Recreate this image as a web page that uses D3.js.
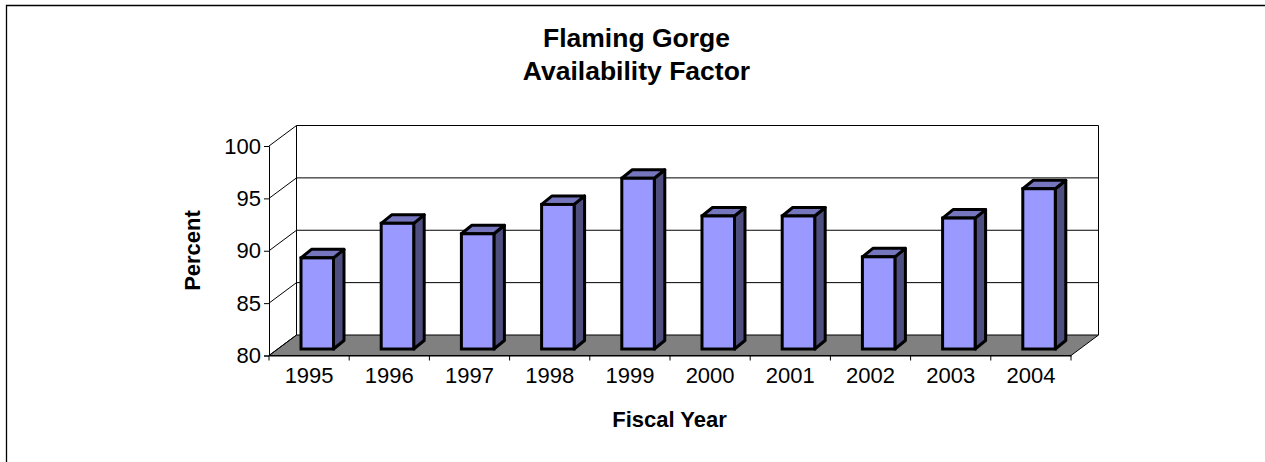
<!DOCTYPE html>
<html>
<head>
<meta charset="utf-8">
<script src="https://cdnjs.cloudflare.com/ajax/libs/d3/7.8.5/d3.min.js"></script>
<style>
  html, body { margin: 0; padding: 0; background: #fff; overflow: hidden; }
  text { font-family: "Liberation Sans", Arial, sans-serif; fill: #000; }
</style>
</head>
<body>
<svg id="chart" width="1265" height="462"></svg>
<script>
let years = ["1995", "1996", "1997", "1998", "1999", "2000", "2001", "2002", "2003", "2004"];
let percent = [88.7, 92.0, 91.0, 93.8, 96.3, 92.7, 92.7, 88.8, 92.5, 95.3];
let yTicks = [80, 85, 90, 95, 100];

let svg = d3.select("#chart");

// outer frame, only left and top are in the picture
svg.append("path")
    .attr("d", "M6.5,462V5.5H1265")
    .attr("fill", "none")
    .attr("stroke", "#000")
    .attr("stroke-width", 1.3);

// front plane of the 3d box, back plane is shifted by depth
let x = d3.scaleBand().domain(years).range([269, 1071]);
let y = d3.scaleLinear().domain([80, 100]).range([355.5, 146]);
let depth = {x: 27.5, y: -20.5};
let barDepth = {x: 10.5, y: -8.5};
let barLift = -6.5;
let barWidth = 32.5;

let backX0 = x.range()[0] + depth.x;
let backX1 = x.range()[1] + depth.x;

// floor
let floor = [
    [x.range()[0], y(80)],
    [x.range()[1], y(80)],
    [backX1, y(80) + depth.y],
    [backX0, y(80) + depth.y]
];
svg.append("polygon")
    .attr("points", floor.join(" "))
    .attr("fill", "#808080")
    .attr("stroke", "#000");

// grid on the back wall and the side wall
yTicks.forEach(function (t) {
    if (t > 80) {
        svg.append("line")
            .attr("x1", backX0).attr("x2", backX1)
            .attr("y1", y(t) + depth.y).attr("y2", y(t) + depth.y)
            .attr("stroke", "#000");
    }
    svg.append("line")
        .attr("x1", x.range()[0]).attr("x2", backX0)
        .attr("y1", y(t)).attr("y2", y(t) + depth.y)
        .attr("stroke", "#000");
});
svg.append("line")
    .attr("x1", backX0).attr("x2", backX0)
    .attr("y1", y(100) + depth.y).attr("y2", y(80) + depth.y)
    .attr("stroke", "#000");
svg.append("line")
    .attr("x1", backX1).attr("x2", backX1)
    .attr("y1", y(100) + depth.y).attr("y2", y(80) + depth.y)
    .attr("stroke", "#000");

// axes
let yAxis = d3.axisLeft(y).tickValues(yTicks).tickSize(5).tickPadding(3);
let gy = svg.append("g").attr("transform", "translate(" + x.range()[0] + ",0)").call(yAxis);
gy.selectAll("text").style("font-size", "22px");
gy.selectAll("line, path").attr("stroke", "#000");

let xAxis = d3.axisBottom(x).tickSize(0).tickPadding(12);
let gx = svg.append("g").attr("transform", "translate(0," + y(80) + ")").call(xAxis);
gx.select("path").attr("stroke", "#000");
gx.selectAll("text").style("font-size", "22px");
let xEdges = years.map(function (d) { return x(d); }).concat([x.range()[1]]);
gx.selectAll(".edge").data(xEdges).enter().append("line")
    .attr("class", "edge")
    .attr("x1", function (d) { return d; }).attr("x2", function (d) { return d; })
    .attr("y1", 0).attr("y2", 5)
    .attr("stroke", "#000");

// bars
let bars = svg.selectAll(".bar").data(years).enter().append("g").attr("class", "bar");

function frontX(d) { return x(d) + 32; }
function topY(i) { return y(percent[i]) + barLift; }
let baseY = y(80) + barLift;

bars.append("polygon")
    .attr("points", function (d, i) {
        let l = frontX(d), r = l + barWidth, t = topY(i);
        return [[r, t], [r + barDepth.x, t + barDepth.y], [r + barDepth.x, baseY + barDepth.y], [r, baseY]].join(" ");
    })
    .attr("fill", "#4f4f7f")
    .attr("stroke", "#000").attr("stroke-width", 3).attr("stroke-linejoin", "round");

bars.append("polygon")
    .attr("points", function (d, i) {
        let l = frontX(d), r = l + barWidth, t = topY(i);
        return [[l, t], [r, t], [r + barDepth.x, t + barDepth.y], [l + barDepth.x, t + barDepth.y]].join(" ");
    })
    .attr("fill", "#7676bf")
    .attr("stroke", "#000").attr("stroke-width", 3).attr("stroke-linejoin", "round");

bars.append("rect")
    .attr("x", frontX)
    .attr("y", function (d, i) { return topY(i); })
    .attr("width", barWidth)
    .attr("height", function (d, i) { return baseY - topY(i); })
    .attr("fill", "#9999ff")
    .attr("stroke", "#000").attr("stroke-width", 3);

// titles
svg.append("text").attr("x", 636.5).attr("y", 47).attr("text-anchor", "middle")
    .style("font-size", "26.5px").style("font-weight", "bold").text("Flaming Gorge");
svg.append("text").attr("x", 636.5).attr("y", 80).attr("text-anchor", "middle")
    .style("font-size", "26.5px").style("font-weight", "bold").text("Availability Factor");
svg.append("text").attr("x", 669.5).attr("y", 427).attr("text-anchor", "middle")
    .style("font-size", "22px").style("font-weight", "bold").text("Fiscal Year");
svg.append("text").attr("transform", "translate(200,250.5) rotate(-90)").attr("text-anchor", "middle")
    .style("font-size", "22px").style("font-weight", "bold").text("Percent");
</script>
</body>
</html>
